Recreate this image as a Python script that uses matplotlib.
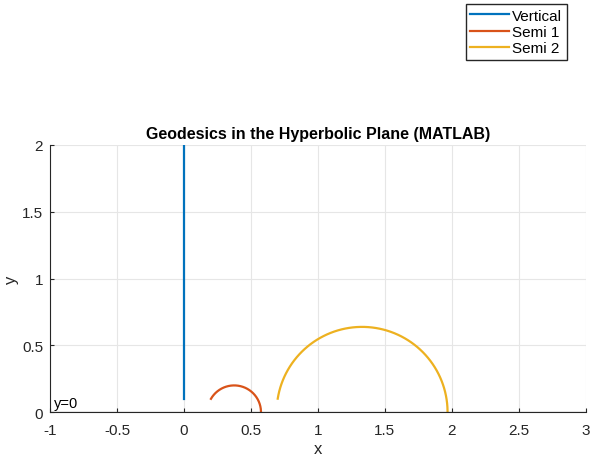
import numpy as np
import matplotlib
matplotlib.use("Agg")
import matplotlib.pyplot as plt

plt.rcParams['font.family'] = ['Liberation Sans', 'DejaVu Sans']

# geodesic data
vert_x = [0, 0]
vert_y = [0.1, 2.0]
semi_names = ['Semi 1', 'Semi 2']
semi_center = [0.375, 1.33]
semi_radius = [0.2, 0.638]
semi_start_angle = [2.62, 2.983]  # radians, arc runs from here down to 0
colors = ['#0072BD', '#D95319', '#EDB120']

fig = plt.figure(figsize=(5.92, 4.56), dpi=100)
ax = fig.add_axes([0.0845, 0.094, 0.905, 0.586])

ax.plot(vert_x, vert_y, color=colors[0], lw=1.6, label='Vertical')
for i in range(len(semi_names)):
    t = np.linspace(semi_start_angle[i], 0, 200)
    ax.plot(semi_center[i] + semi_radius[i] * np.cos(t), semi_radius[i] * np.sin(t),
            color=colors[i + 1], lw=1.6, label=semi_names[i])

ax.axhline(0, color='k', lw=0.8)
ax.text(-0.97, 0.015, 'y=0', fontsize=10.5, va='bottom', ha='left')

ax.set_xlim(-1, 3)
ax.set_ylim(0, 2)
ax.set_xticks(np.arange(-1, 3.01, 0.5))
ax.set_xticklabels(['-1', '-0.5', '0', '0.5', '1', '1.5', '2', '2.5', '3'])
ax.set_yticks(np.arange(0, 2.01, 0.5))
ax.set_yticklabels(['0', '0.5', '1', '1.5', '2'])
ax.grid(True, color='#e6e6e6', lw=0.8)
ax.set_axisbelow(True)
ax.tick_params(direction='in', labelsize=11, length=3, color='#262626', labelcolor='#262626')
ax.tick_params(axis='x', pad=8)
ax.tick_params(axis='y', pad=5)
for s in ['top', 'right']:
    ax.spines[s].set_visible(False)
for s in ['left', 'bottom']:
    ax.spines[s].set_color('#262626')
ax.set_xlabel('x', fontsize=12, color='#262626', labelpad=3)
ax.set_ylabel('y', fontsize=12, color='#262626', labelpad=2)
ax.set_title('Geodesics in the Hyperbolic Plane (MATLAB)', fontsize=11.5, fontweight='bold', pad=5)

fig.legend(loc='upper right', bbox_to_anchor=(567 / 592, 1 - 5 / 456), fontsize=11,
           frameon=True, fancybox=False, edgecolor='#262626', framealpha=1,
           handlelength=2.5, handletextpad=0.25, borderpad=0.3, labelspacing=0.15, borderaxespad=0)

fig.savefig('out.png', dpi=100)
